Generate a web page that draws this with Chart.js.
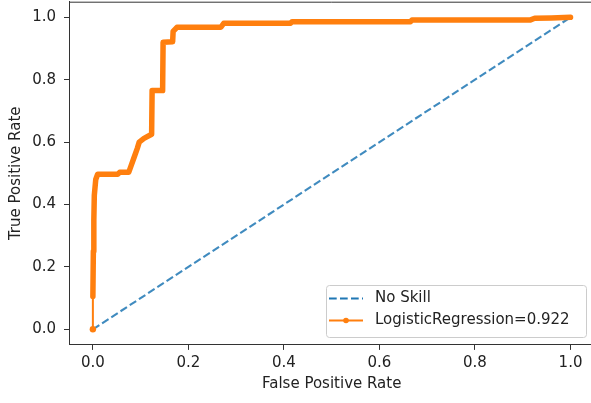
<!DOCTYPE html>
<html>
<head>
<meta charset="utf-8">
<script src="https://cdn.jsdelivr.net/npm/chart.js@4"></script>
<style>
    html, body { margin: 0; padding: 0; background: #fff; overflow: hidden; }
    #wrap { width: 591px; height: 403px; overflow: hidden; }
    #rocChart { display: block; }
</style>
</head>
<body>
<div id="wrap"><canvas id="rocChart" width="596" height="403"></canvas></div>
<script>
// values
const tickValues = [0, 0.2, 0.4, 0.6, 0.8, 1.0];

const noSkillFpr = [0, 1];
const noSkillTpr = [0, 1];

const lrFpr = [0, 0, 0.001, 0.002, 0.003, 0.006, 0.01, 0.052, 0.056, 0.075, 0.079, 0.086, 0.093, 0.097, 0.107, 0.123,
    0.124, 0.146, 0.147, 0.167, 0.168, 0.176, 0.268, 0.274, 0.414, 0.417, 0.665, 0.668, 0.915, 0.925, 0.96, 1.0];
const lrTpr = [0, 0.105, 0.25, 0.35, 0.43, 0.48, 0.497, 0.497, 0.503, 0.503, 0.52, 0.55, 0.58, 0.60, 0.612, 0.625,
    0.765, 0.765, 0.92, 0.922, 0.955, 0.968, 0.968, 0.981, 0.981, 0.986, 0.986, 0.991, 0.991, 0.997, 0.998, 1.0];

const legendLabels = ['No Skill', 'LogisticRegression=0.922'];

const BLUE = '#1f77b4';
const ORANGE = '#ff7f0e';
const FONT = 'DejaVu Sans';

function toPoints(xs, ys) {
    return xs.map((x, i) => ({ x: x, y: ys[i] }));
}

// top and right spines (the right one falls just outside the picture)
const framePlugin = {
    id: 'frame',
    afterDraw(chart) {
        const { ctx, chartArea: a } = chart;
        ctx.save();
        ctx.strokeStyle = '#333';
        ctx.lineWidth = 1;
        ctx.beginPath();
        ctx.moveTo(a.left, a.top + 0.5);
        ctx.lineTo(a.right, a.top + 0.5);
        ctx.lineTo(a.right, a.bottom);
        ctx.stroke();
        ctx.restore();
    }
};

// matplotlib style legend box
const legendPlugin = {
    id: 'mplLegend',
    afterDraw(chart) {
        const ctx = chart.ctx;
        const x0 = 326, y0 = 285, w = 260, h = 52;
        ctx.save();
        ctx.fillStyle = 'rgba(255,255,255,0.8)';
        ctx.strokeStyle = '#cccccc';
        ctx.lineWidth = 1;
        ctx.beginPath();
        ctx.roundRect(x0 + 0.5, y0 + 0.5, w, h, 3);
        ctx.fill();
        ctx.stroke();

        const rows = [298.5, 320.5];
        // No Skill handle
        ctx.strokeStyle = BLUE;
        ctx.lineWidth = 2;
        ctx.setLineDash([7.7, 3.3]);
        ctx.beginPath();
        ctx.moveTo(329, rows[0]);
        ctx.lineTo(363, rows[0]);
        ctx.stroke();
        ctx.setLineDash([]);
        // LogisticRegression handle
        ctx.strokeStyle = ORANGE;
        ctx.beginPath();
        ctx.moveTo(329, rows[1]);
        ctx.lineTo(363, rows[1]);
        ctx.stroke();
        ctx.fillStyle = ORANGE;
        ctx.beginPath();
        ctx.arc(346, rows[1], 2.8, 0, Math.PI * 2);
        ctx.fill();

        ctx.fillStyle = '#222';
        ctx.font = '15px "' + FONT + '"';
        ctx.textBaseline = 'middle';
        ctx.textAlign = 'left';
        ctx.fillText(legendLabels[0], 375, rows[0]);
        ctx.fillText(legendLabels[1], 375, rows[1]);
        ctx.restore();
    }
};

function axisOptions(title, isX) {
    return {
        type: 'linear',
        min: -0.05,
        max: 1.05,
        afterBuildTicks: axis => { axis.ticks = tickValues.map(v => ({ value: v })); },
        afterFit: axis => {
            if (isX) axis.height = 58.1; else axis.width = 69;
            // no extra room for edge labels, the axes box is fixed
            axis.paddingTop = 0;
            axis.paddingBottom = 0;
            axis.paddingLeft = 0;
            axis.paddingRight = 0;
        },
        grid: {
            drawOnChartArea: false,
            drawTicks: true,
            tickLength: 5,
            color: '#333',
            lineWidth: 1
        },
        border: { display: true, color: '#333', width: 1 },
        ticks: {
            padding: isX ? 4 : 8,
            color: '#222',
            font: { family: FONT, size: 15 },
            maxRotation: 0,
            callback: v => v.toFixed(1)
        },
        title: {
            display: true,
            text: title,
            color: '#222',
            font: { family: FONT, size: 15 },
            padding: isX ? { top: 0, bottom: 10 } : { top: 7, bottom: 0 }
        }
    };
}

function createChart() {
    const ctx = document.getElementById('rocChart').getContext('2d');
    new Chart(ctx, {
        type: 'scatter',
        data: {
            datasets: [{
                label: legendLabels[1],
                data: toPoints(lrFpr, lrTpr),
                showLine: true,
                borderColor: ORANGE,
                backgroundColor: ORANGE,
                borderWidth: 5.5,
                borderCapStyle: 'round',
                borderJoinStyle: 'round',
                segment: {
                    borderWidth: c => c.p0DataIndex === 0 ? 2 : 5.5
                },
                pointRadius: c => c.dataIndex === 0 ? 3.2 : 0,
                pointBorderWidth: 0,
                tension: 0,
                order: 0
            }, {
                label: legendLabels[0],
                data: toPoints(noSkillFpr, noSkillTpr),
                showLine: true,
                borderColor: 'rgba(31,119,180,0.85)',
                borderWidth: 2.1,
                borderDash: [7.7, 3.3],
                pointRadius: 0,
                order: 1
            }]
        },
        options: {
            responsive: false,
            animation: false,
            // canvas is 596 wide and cropped to 591, so the right spine is cut off as in the reference
            layout: { autoPadding: false, padding: { top: 1.7, right: 1.6, left: 0, bottom: 0 } },
            scales: {
                x: axisOptions('False Positive Rate', true),
                y: axisOptions('True Positive Rate', false)
            },
            plugins: {
                legend: { display: false },
                tooltip: { enabled: false }
            }
        },
        plugins: [framePlugin, legendPlugin]
    });
}

document.addEventListener('DOMContentLoaded', createChart);
</script>
</body>
</html>
